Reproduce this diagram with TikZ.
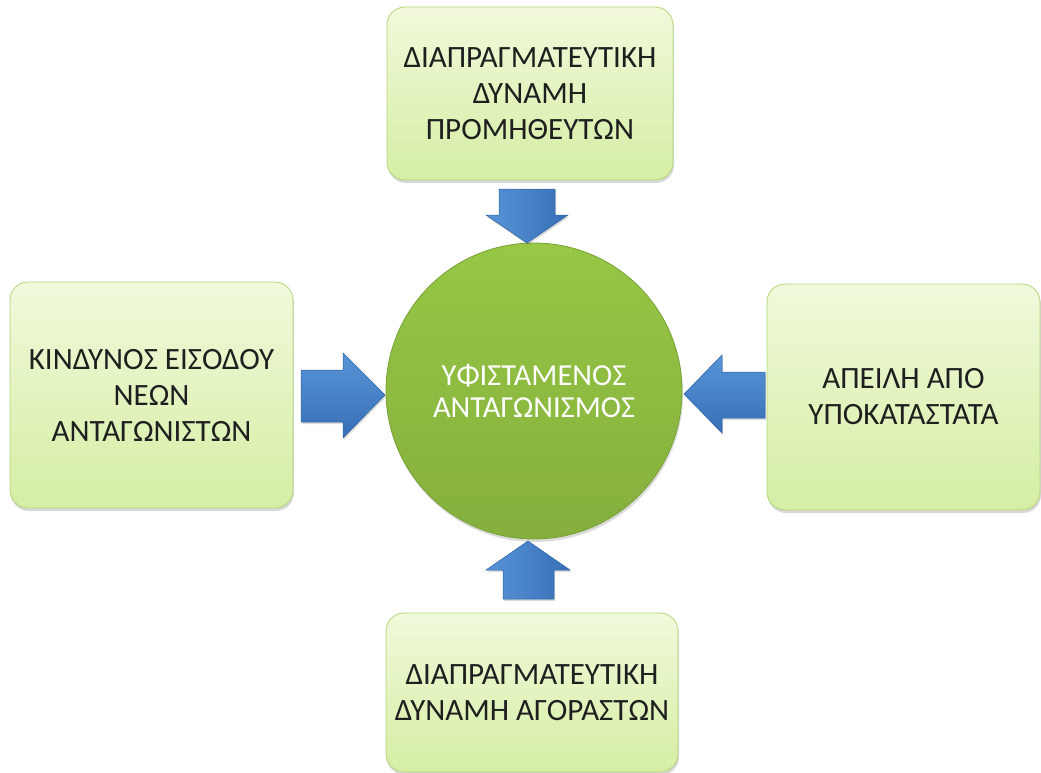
\documentclass[tikz,border=0pt]{standalone}
\usepackage{fontspec}
\setmainfont{Carlito}
\usetikzlibrary{shadows}
\definecolor{boxtop}{HTML}{F1F9DB}
\definecolor{boxbot}{HTML}{D5EEA4}
\definecolor{boxline}{HTML}{B2D57A}
\definecolor{hubtop}{HTML}{97C745}
\definecolor{hubbot}{HTML}{84AF3D}
\definecolor{hubline}{HTML}{78A236}
\definecolor{arrlight}{HTML}{5894D8}
\definecolor{arrdark}{HTML}{386FB6}
\definecolor{arrline}{HTML}{2E62A2}
\tikzset{
  force/.style={draw=boxline, line width=0.8pt, rounded corners=18pt,
    top color=boxtop, bottom color=boxbot, align=center, inner sep=0pt,
    font=\fontsize{31}{36}\selectfont, text=black!88,
    drop shadow={shadow xshift=1pt, shadow yshift=-3pt, opacity=0.22, fill=black!70}},
  hub/.style={circle, draw=hubline, line width=0.8pt, minimum size=296pt,
    top color=hubtop, bottom color=hubbot, align=center, inner sep=0pt,
    font=\fontsize{30.5}{32}\selectfont, text=white,
    drop shadow={shadow xshift=1pt, shadow yshift=-3pt, opacity=0.2, fill=black!70}},
  harrow/.style={draw=arrline, line width=0.5pt, line join=miter,
    top color=arrlight, bottom color=arrdark,
    drop shadow={shadow xshift=1pt, shadow yshift=-2pt, opacity=0.2, fill=black!70}},
  varrow/.style={draw=arrline, line width=0.5pt, line join=miter,
    left color=arrlight, right color=arrdark,
    drop shadow={shadow xshift=1pt, shadow yshift=-2pt, opacity=0.2, fill=black!70}},
}
\begin{document}
\begin{tikzpicture}[x=1pt, y=-1pt]
\useasboundingbox (0,0) rectangle (1041,773);

% outer forces
\node[force, minimum width=286pt, minimum height=173pt] (suppliers) at (530,93.5)
  {ΔΙΑΠΡΑΓΜΑΤΕΥΤΙΚΗ\\ΔΥΝΑΜΗ\\ΠΡΟΜΗΘΕΥΤΩΝ};
\node[force, minimum width=283pt, minimum height=226pt] (entrants) at (151.5,395)
  {ΚΙΝΔΥΝΟΣ ΕΙΣΟΔΟΥ\\ΝΕΩΝ\\ΑΝΤΑΓΩΝΙΣΤΩΝ};
\node[force, minimum width=273pt, minimum height=226pt] (substitutes) at (903.5,397)
  {ΑΠΕΙΛΗ ΑΠΟ\\ΥΠΟΚΑΤΑΣΤΑΤΑ};
\node[force, minimum width=292pt, minimum height=159pt] (buyers) at (532,692.5)
  {ΔΙΑΠΡΑΓΜΑΤΕΥΤΙΚΗ\\ΔΥΝΑΜΗ ΑΓΟΡΑΣΤΩΝ};

% central rivalry
\node[hub] (rivalry) at (534,391) {ΥΦΙΣΤΑΜΕΝΟΣ\\ΑΝΤΑΓΩΝΙΣΜΟΣ};

% block arrows pointing at the centre
\path[varrow] (499,189) -- (555,189) -- (555,215) -- (568,215) -- (527,243)
  -- (486,215) -- (499,215) -- cycle;
\path[varrow] (503,599) -- (554,599) -- (554,570) -- (570,570) -- (528,541)
  -- (486,570) -- (503,570) -- cycle;
\path[harrow] (301,370) -- (343,370) -- (343,353) -- (385,395) -- (343,438)
  -- (343,422) -- (301,422) -- cycle;
\path[harrow] (765,372) -- (722,372) -- (722,355) -- (684,394) -- (722,433)
  -- (722,418) -- (765,418) -- cycle;
\end{tikzpicture}
\end{document}
